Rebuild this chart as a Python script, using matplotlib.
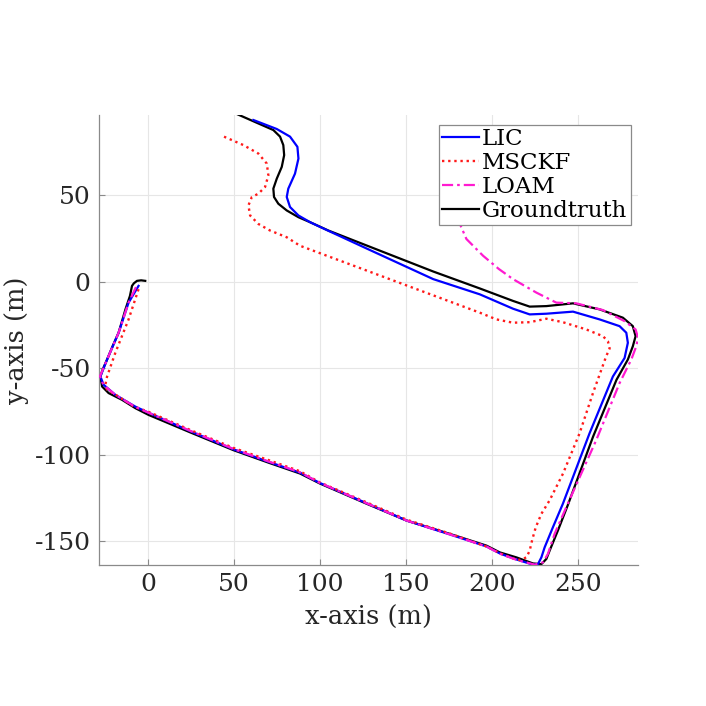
import matplotlib
matplotlib.use("Agg")
import matplotlib.pyplot as plt

# ---------------- data (metres) ----------------
gt_x = [-1.6, -4.0, -6.4, -8.2, -9.3, -10.5, -13.0, -17.1, -20.5, -23.8, -26.3, -27.7, -26.7, -22.9, -15.1,
        -7.4, 0.3, 25.0, 49.7, 70.0, 88.4, 100.0, 127.2, 150.4, 175.5, 196.9, 204.6, 214.3, 223.9, 228.8,
        231.7, 233.6, 238.4, 244.2, 258.9, 272.5, 279.1, 282.0, 283.6, 282.0, 276.2, 262.7, 247.2, 231.7,
        222.0, 212.3, 193.0, 165.9, 104.9, 94.3, 87.5, 80.7, 75.8, 73.3, 72.9, 74.9, 77.8, 79.2, 78.7, 76.8,
        72.9, 50.7]
gt_y = [0.6, 0.9, 0.6, -0.8, -2.3, -8.1, -15.5, -29.4, -37.0, -44.9, -50.5, -54.7, -60.5, -64.3, -68.2,
        -73.0, -76.9, -87.2, -97.3, -104.5, -110.8, -116.6, -128.3, -138.0, -145.7, -152.5, -156.4, -159.3,
        -162.8, -163.2, -160.2, -155.4, -143.8, -129.0, -89.4, -56.6, -44.9, -37.2, -31.4, -25.6, -20.7,
        -15.9, -12.4, -14.0, -14.3, -11.0, -3.8, 6.0, 29.7, 34.5, 37.4, 41.3, 45.2, 49.1, 53.9, 59.7, 66.5,
        73.3, 79.1, 84.0, 87.8, 97.5]

lic_x = [-5.5, -11.3, -17.1, -23.8, -27.7, -25.8, -19.0, -7.4, 0.0, 25.0, 49.7, 70.0, 88.4, 100.0, 127.2,
         150.4, 175.5, 196.9, 205.0, 214.3, 223.9, 226.8, 228.8, 230.7, 235.5, 241.3, 256.8, 270.4, 277.2,
         279.1, 278.2, 274.3, 262.7, 247.2, 231.7, 222.0, 212.3, 193.0, 165.9, 130.0, 105.0, 94.3, 87.5, 82.6,
         80.7, 81.6, 85.5, 87.5, 86.9, 82.6, 74.9, 61.3]
lic_y = [-2.3, -12.0, -29.4, -44.9, -54.7, -59.5, -65.3, -72.1, -75.5, -86.5, -96.8, -104.0, -110.3, -116.3,
         -128.0, -138.0, -146.0, -153.0, -157.2, -160.5, -163.5, -163.2, -159.3, -153.5, -141.9, -128.3,
         -87.6, -54.7, -44.0, -35.2, -29.4, -25.6, -21.7, -17.2, -18.4, -18.8, -15.5, -7.2, 1.6, 18.0, 29.5,
         34.5, 38.4, 43.3, 49.1, 53.9, 62.6, 71.3, 78.1, 84.0, 88.4, 93.6]

msckf_x = [-5.5, -11.3, -19.0, -23.8, -24.8, -23.8, -20.0, -14.0, -8.4, 0.0, 25.0, 49.7, 70.0, 88.4, 100.0,
           127.2, 150.4, 175.5, 196.9, 205.0, 212.0, 216.2, 220.1, 222.0, 223.5, 225.5, 228.8, 233.6, 241.4,
           251.0, 258.8, 266.5, 268.5, 267.5, 264.6, 254.9, 241.3, 231.7, 222.0, 212.3, 202.7, 193.0, 150.0,
           88.4, 80.7, 71.0, 64.2, 59.4, 58.4, 60.4, 64.2, 68.1, 70.0, 69.1, 64.2, 55.5, 43.0]
msckf_y = [-4.2, -21.7, -41.0, -54.7, -59.5, -62.4, -64.5, -68.3, -72.0, -75.0, -85.8, -96.0, -103.0, -109.5,
           -116.0, -127.5, -137.5, -145.5, -153.0, -157.0, -159.8, -160.8, -159.3, -155.4, -149.0, -142.0,
           -134.1, -126.3, -110.8, -87.6, -64.3, -43.0, -38.5, -34.3, -31.4, -27.5, -23.3, -21.3, -23.3, -23.6,
           -21.7, -17.8, -1.9, 20.9, 25.8, 29.7, 33.5, 38.4, 44.2, 49.1, 51.0, 54.9, 61.6, 68.4, 74.2, 79.1,
           84.5]

loam_x = [-7.0, -11.3, -17.1, -23.8, -27.9, -26.0, -19.0, -7.4, 0.0, 25.0, 49.7, 70.0, 88.4, 100.0, 127.2,
          150.4, 175.5, 196.9, 205.0, 214.3, 224.9, 229.7, 232.6, 236.5, 243.3, 260.7, 274.3, 281.1, 284.0,
          285.0, 283.6, 277.2, 264.6, 249.1, 237.5, 225.9, 212.3, 204.0, 194.9, 185.2, 181.4, 178.5]
loam_y = [-3.0, -12.0, -29.4, -44.9, -54.5, -59.5, -65.3, -72.3, -75.5, -86.3, -96.6, -103.8, -110.1, -116.2,
          -128.0, -138.0, -146.0, -153.0, -157.3, -160.7, -163.5, -162.2, -157.3, -145.7, -130.2, -91.5, -58.5,
          -44.9, -37.2, -32.3, -27.5, -22.7, -16.3, -12.4, -12.0, -6.2, 1.6, 7.5, 15.1, 24.8, 33.5, 45.0]

x_ticks = [0, 50, 100, 150, 200, 250]
y_ticks = [-150, -100, -50, 0, 50]
labels = ["LIC", "MSCKF", "LOAM", "Groundtruth"]

# ---------------- figure ----------------
W = 706
fig = plt.figure(figsize=(7.06, 7.06), dpi=100)
ax = fig.add_axes([99 / W, 1 - 565 / W, (638 - 99) / W, (565 - 115) / W])

FONT = "DejaVu Serif"
TXT = "#262626"

h_gt, = ax.plot(gt_x, gt_y, color="black", lw=1.6, zorder=2, solid_joinstyle="round")
h_lic, = ax.plot(lic_x, lic_y, color="#0000ff", lw=1.6, zorder=3, solid_joinstyle="round")
h_ms, = ax.plot(msckf_x, msckf_y, color="#ff1a1a", lw=1.7, ls=(0, (1, 1.6)), zorder=4)
h_lo, = ax.plot(loam_x, loam_y, color="#ff1ad0", lw=1.6, ls=(0, (5, 1.8, 1.2, 1.8)), zorder=4)

ax.set_xlim(-28.5, 285)
ax.set_ylim(-163.7, 96.5)
ax.set_xticks(x_ticks)
ax.set_yticks(y_ticks)
ax.set_xticklabels([str(v) for v in x_ticks])
ax.set_yticklabels([str(v) for v in y_ticks])

for s in ["top", "right"]:
    ax.spines[s].set_visible(False)
for s in ["left", "bottom"]:
    ax.spines[s].set_color("#8a8a8a")
    ax.spines[s].set_linewidth(0.9)

ax.grid(True, color="#e6e6e6", lw=0.8)
ax.set_axisbelow(True)
ax.tick_params(direction="in", length=4, width=0.8, color="#8a8a8a", labelcolor=TXT, pad=6,
               labelsize=18)
for lab in ax.get_xticklabels() + ax.get_yticklabels():
    lab.set_fontfamily(FONT)

fig.text(368 / W, 1 - 617 / W, "x-axis (m)", ha="center", va="center", fontsize=18.5,
         family=FONT, color=TXT)
fig.text(17 / W, 1 - 340 / W, "y-axis (m)", ha="center", va="center", rotation=90, fontsize=18.5,
         family=FONT, color=TXT)

leg = ax.legend([h_lic, h_ms, h_lo, h_gt], labels, loc="upper left",
                bbox_to_anchor=(439 / W, 1 - 125 / W), bbox_transform=fig.transFigure,
                prop={"family": FONT, "size": 16.5}, frameon=True, fancybox=False,
                borderaxespad=0, borderpad=0.15, labelspacing=0.08, handlelength=1.6,
                handletextpad=0.12)
leg.get_frame().set_edgecolor("#8a8a8a")
leg.get_frame().set_linewidth(0.9)
leg.get_frame().set_alpha(1)
leg.set_zorder(10)
for t in leg.get_texts():
    t.set_color("black")

fig.savefig("out.png", dpi=100, facecolor="white")
